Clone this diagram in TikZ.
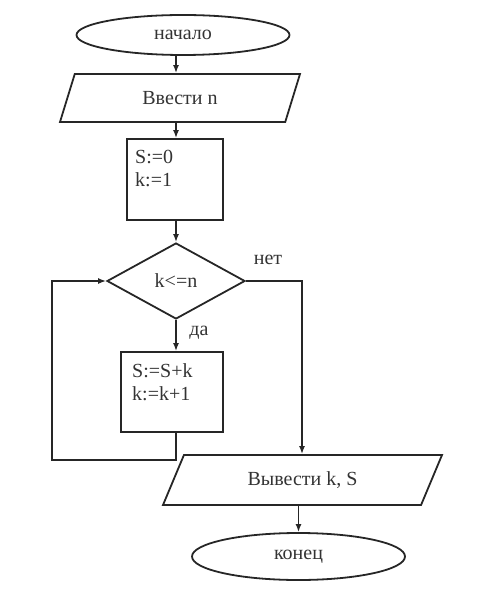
\documentclass[tikz,border=0pt]{standalone}
\usepackage{fontspec}
\setmainfont{Liberation Serif}
\usetikzlibrary{shapes.geometric,arrows.meta,calc}
\tikzset{
  base/.style={draw=black!85, line width=1.8pt, inner sep=0pt, font=\fontsize{20}{23}\selectfont, text=black!80},
  term/.style={base, ellipse},
  io/.style={base, trapezium, trapezium stretches body},
  proc/.style={base, rectangle},
  cond/.style={base, diamond},
  txt/.style={inner sep=0pt, font=\fontsize{20}{23}\selectfont, text=black!80, align=left},
  arr/.style={draw=black!85, line width=1.8pt, -{Latex[length=8pt,width=6pt]}},
  ln/.style={draw=black!85, line width=1.8pt}
}
\begin{document}
\begin{tikzpicture}[x=1pt,y=-1pt]
\useasboundingbox (0,0) rectangle (500,601);
\node[term, minimum width=213pt, minimum height=40pt] (start) at (183,35) {начало};
\node[io, trapezium left angle=42, trapezium right angle=138, minimum width=240pt, minimum height=48pt] (in) at (180,98) {Ввести n};
\node[proc, minimum width=96pt, minimum height=81pt] (b1) at (175,179.5) {};
\node[txt, anchor=north west] (b1t) at (135,150) {S:=0\\k:=1};
\node[cond, minimum width=138pt, minimum height=76pt] (dia) at (176,281) {k<=n};
\node[proc, minimum width=102pt, minimum height=80pt] (b2) at (172,392) {};
\node[txt, anchor=north west] (b2t) at (132,363) {S:=S+k\\k:=k+1};
\node[io, trapezium left angle=39, trapezium right angle=141, minimum width=279pt, minimum height=50pt] (out) at (302.5,480) {Вывести k, S};
\node[term, minimum width=213pt, minimum height=47pt] (end) at (298.5,556.5) {конец};
\node[txt] (no) at (268,260) {нет};
\node[txt] (yes) at (199,333) {да};
\coordinate (c1) at (176,460);
\coordinate (c2) at (52,460);
\coordinate (c3) at (52,281);
\coordinate (c4) at (302,281);
\draw[arr] (start.south -| dia.north) -- (in.north -| dia.north);
\draw[arr] (in.south -| dia.north) -- (b1.north -| dia.north);
\draw[arr] (b1.south -| dia.north) -- (dia.north);
\draw[arr] (dia.south) -- (b2.north -| dia.south);
\draw[arr] (b2.south -| dia.south) -- (c1) -- (c2) -- (c3) -- (dia.west);
\draw[arr] (dia.east) -- (c4) -- (out.north -| c4);
\draw[arr] (out.south -| end.north) -- (end.north);
\end{tikzpicture}
\end{document}
